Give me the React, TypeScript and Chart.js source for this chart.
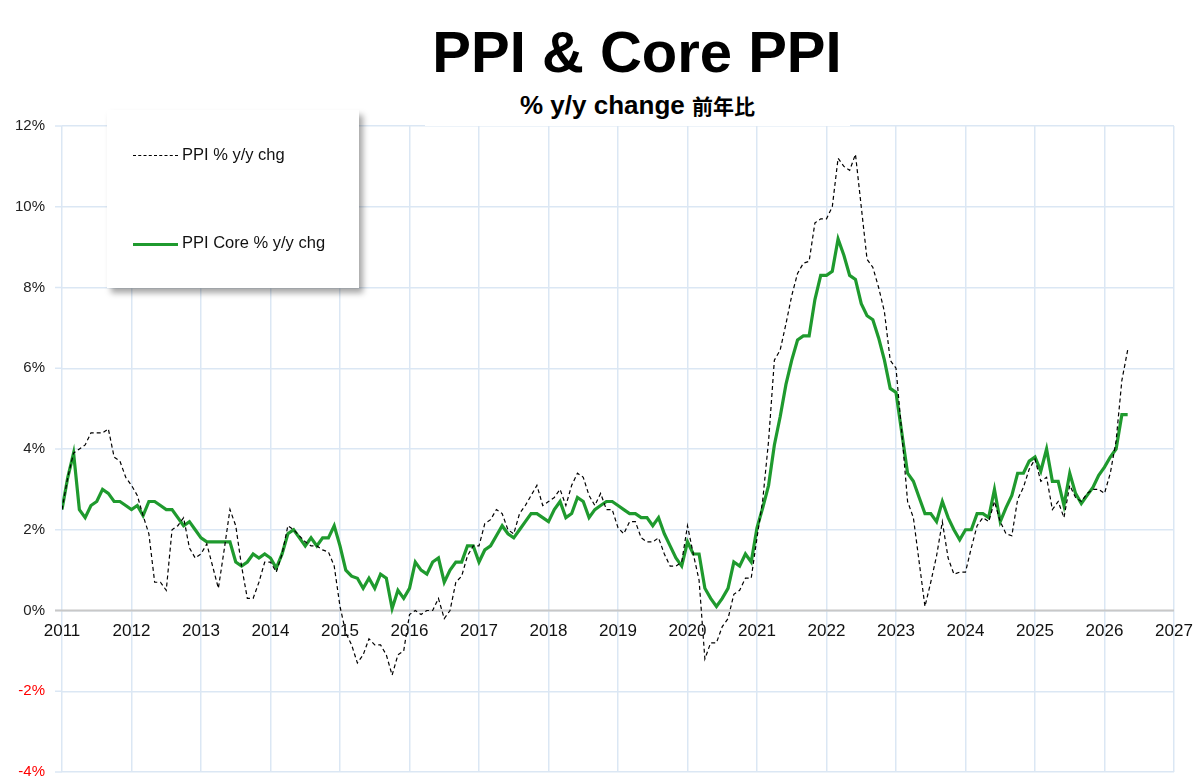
import React, { useEffect, useRef } from "react";
import { Chart, registerables } from "chart.js";
Chart.register(...registerables);

const years = [2011, 2012, 2013, 2014, 2015, 2016, 2017, 2018, 2019, 2020, 2021, 2022, 2023, 2024, 2025, 2026];
const ppi2011 = [2.5, 3.3, 3.9, 4.0, 4.1, 4.4, 4.4, 4.4, 4.5, 3.8, 3.7, 3.3];
const ppi2012 = [3.1, 2.85, 2.35, 1.9, 0.7, 0.7, 0.5, 2.0, 2.1, 2.3, 1.55, 1.3];
const ppi2013 = [1.4, 1.65, 1.1, 0.55, 1.5, 2.5, 2.1, 1.1, 0.3, 0.3, 0.7, 1.2];
const ppi2014 = [1.2, 0.95, 1.4, 2.1, 2.0, 1.85, 1.7, 1.6, 1.6, 1.5, 1.45, 1.1];
const ppi2015 = [0.1, -0.55, -0.85, -1.3, -1.1, -0.7, -0.85, -0.85, -1.1, -1.6, -1.1, -1.0];
const ppi2016 = [-0.1, 0.0, -0.1, 0.0, 0.0, 0.3, -0.2, 0.0, 0.7, 0.85, 1.35, 1.6];
const ppi2017 = [1.6, 2.15, 2.25, 2.5, 2.4, 2.0, 1.9, 2.4, 2.6, 2.85, 3.1, 2.6];
const ppi2018 = [2.7, 2.8, 3.0, 2.6, 3.1, 3.4, 3.3, 2.85, 2.6, 2.9, 2.5, 2.5];
const ppi2019 = [2.05, 1.9, 2.2, 2.2, 1.8, 1.7, 1.7, 1.8, 1.4, 1.1, 1.1, 1.2];
const ppi2020 = [2.1, 1.4, 0.75, -1.2, -0.8, -0.8, -0.4, -0.2, 0.4, 0.5, 0.8, 0.8];
const ppi2021 = [1.8, 2.75, 4.2, 6.2, 6.45, 7.1, 7.8, 8.35, 8.6, 8.65, 9.6, 9.7];
const ppi2022 = [9.7, 10.0, 11.2, 11.0, 10.9, 11.3, 10.0, 8.7, 8.5, 8.0, 7.4, 6.2];
const ppi2023 = [6.0, 4.4, 2.7, 2.3, 1.2, 0.1, 0.7, 1.35, 2.2, 1.3, 0.9, 0.95];
const ppi2024 = [0.95, 1.55, 2.1, 2.3, 2.2, 2.7, 2.2, 1.9, 1.85, 2.75, 3.05, 3.5];
const ppi2025 = [3.75, 3.2, 3.3, 2.5, 2.7, 2.3, 3.1, 2.8, 2.7, 2.9, 3.0, 3.0];
const ppi2026 = [2.9, 3.4, 4.2, 5.7, 6.45];

const core2011 = [2.5, 3.3, 3.9, 2.5, 2.3, 2.6, 2.7, 3.0, 2.9, 2.7, 2.7, 2.6];
const core2012 = [2.5, 2.6, 2.35, 2.7, 2.7, 2.6, 2.5, 2.5, 2.3, 2.1, 2.2, 2.0];
const core2013 = [1.8, 1.7, 1.7, 1.7, 1.7, 1.7, 1.2, 1.1, 1.2, 1.4, 1.3, 1.4];
const core2014 = [1.3, 1.05, 1.4, 1.9, 2.0, 1.8, 1.6, 1.8, 1.6, 1.8, 1.8, 2.1];
const core2015 = [1.6, 1.0, 0.85, 0.8, 0.55, 0.8, 0.55, 0.9, 0.8, 0.05, 0.5, 0.3];
const core2016 = [0.55, 1.2, 1.0, 0.9, 1.2, 1.3, 0.7, 1.0, 1.2, 1.2, 1.6, 1.6];
const core2017 = [1.2, 1.5, 1.6, 1.85, 2.1, 1.9, 1.8, 2.0, 2.2, 2.4, 2.4, 2.3];
const core2018 = [2.2, 2.5, 2.7, 2.3, 2.4, 2.8, 2.7, 2.3, 2.5, 2.6, 2.7, 2.7];
const core2019 = [2.6, 2.5, 2.4, 2.4, 2.3, 2.3, 2.1, 2.3, 1.9, 1.6, 1.3, 1.1];
const core2020 = [1.7, 1.4, 1.4, 0.55, 0.3, 0.1, 0.3, 0.55, 1.2, 1.1, 1.4, 1.2];
const core2021 = [2.05, 2.55, 3.1, 4.1, 4.8, 5.6, 6.2, 6.7, 6.8, 6.8, 7.7, 8.3];
const core2022 = [8.3, 8.4, 9.2, 8.8, 8.3, 8.2, 7.6, 7.3, 7.2, 6.75, 6.2, 5.5];
const core2023 = [5.4, 4.4, 3.4, 3.2, 2.8, 2.4, 2.4, 2.2, 2.7, 2.3, 2.0, 1.75];
const core2024 = [2.0, 2.0, 2.4, 2.4, 2.3, 3.0, 2.2, 2.55, 2.85, 3.4, 3.4, 3.7];
const core2025 = [3.8, 3.45, 4.0, 3.2, 3.2, 2.6, 3.4, 2.9, 2.65, 2.85, 3.05, 3.35];
const core2026 = [3.55, 3.8, 4.0, 4.85, 4.85];

const ppiByYear = [ppi2011, ppi2012, ppi2013, ppi2014, ppi2015, ppi2016, ppi2017, ppi2018, ppi2019, ppi2020, ppi2021, ppi2022, ppi2023, ppi2024, ppi2025, ppi2026];
const coreByYear = [core2011, core2012, core2013, core2014, core2015, core2016, core2017, core2018, core2019, core2020, core2021, core2022, core2023, core2024, core2025, core2026];
const yTicks = [-4, -2, 0, 2, 4, 6, 8, 10, 12];
const xTicks = [2011, 2012, 2013, 2014, 2015, 2016, 2017, 2018, 2019, 2020, 2021, 2022, 2023, 2024, 2025, 2026, 2027];

function toPoints(byYear: number[][]) {
  const out: { x: number; y: number }[] = [];
  byYear.forEach((arr, i) => arr.forEach((v, m) => out.push({ x: years[i] + m / 12, y: v })));
  return out;
}

const labelPlugin = {
  id: "labels",
  afterDraw(chart: any) {
    const ctx = chart.ctx;
    const xs = chart.scales.x;
    const ys = chart.scales.y;
    ctx.save();
    ctx.font = "15px Arial, 'Liberation Sans', sans-serif";
    ctx.textAlign = "right";
    ctx.textBaseline = "middle";
    yTicks.forEach((t) => {
      ctx.fillStyle = t < 0 ? "#ff0000" : "#222";
      ctx.fillText(t + "%", 45, ys.getPixelForValue(t));
    });
    ctx.fillStyle = "#111";
    ctx.textAlign = "center";
    ctx.textBaseline = "top";
    ctx.font = "17px Arial, 'Liberation Sans', sans-serif";
    const y0 = ys.getPixelForValue(0);
    xTicks.forEach((t) => ctx.fillText(String(t), xs.getPixelForValue(t), y0 + 12));
    ctx.restore();
  },
  beforeDatasetsDraw(chart: any) {
    const ctx = chart.ctx;
    const ys = chart.scales.y;
    const area = chart.chartArea;
    ctx.save();
    ctx.strokeStyle = "#dbe7f4";
    ctx.lineWidth = 1.5;
    yTicks.forEach((t) => {
      const y = ys.getPixelForValue(t);
      ctx.beginPath();
      ctx.moveTo(55, y);
      ctx.lineTo(area.left, y);
      ctx.stroke();
    });
    const y0 = ys.getPixelForValue(0);
    ctx.strokeStyle = "#c8c8c8";
    ctx.lineWidth = 2;
    ctx.beginPath();
    ctx.moveTo(55, y0);
    ctx.lineTo(area.right, y0);
    ctx.stroke();
    ctx.restore();
  },
};

export default function App() {
  const ref = useRef<HTMLCanvasElement>(null);
  useEffect(() => {
    const chart = new Chart(ref.current!, {
      type: "line",
      data: {
        datasets: [
          {
            label: "PPI % y/y chg",
            data: toPoints(ppiByYear),
            borderColor: "#000",
            borderWidth: 1.2,
            borderDash: [4, 3],
            pointRadius: 0,
            tension: 0,
          },
          {
            label: "PPI Core % y/y chg",
            data: toPoints(coreByYear),
            borderColor: "#1f9a2e",
            borderWidth: 3.2,
            pointRadius: 0,
            tension: 0,
          },
        ],
      },
      options: {
        animation: false,
        responsive: false,
        layout: { padding: { left: 62, right: 26, top: 126, bottom: 12 } },
        plugins: { legend: { display: false }, title: { display: false }, tooltip: { enabled: false } },
        scales: {
          x: {
            type: "linear",
            min: 2011,
            max: 2027,
            ticks: { display: false, stepSize: 1 },
            grid: { color: "#dbe7f4", lineWidth: 1.5, drawTicks: false },
            border: { display: false },
          },
          y: {
            min: -4,
            max: 12,
            ticks: { display: false, stepSize: 2 },
            grid: { color: "#dbe7f4", lineWidth: 1.5, drawTicks: false },
            border: { display: false },
          },
        },
      },
      plugins: [labelPlugin],
    });
    return () => chart.destroy();
  }, []);

  return (
    <div style={{ position: "absolute", left: 0, top: 0, width: 1200, height: 784, background: "#fff", fontFamily: "Arial, 'Liberation Sans', sans-serif" }}>
      <canvas ref={ref} width={1200} height={784} style={{ position: "absolute", left: 0, top: 0 }} />
      <div style={{ position: "absolute", left: 0, top: 18, width: 1274, textAlign: "center", fontSize: 58, fontWeight: "bold", color: "#000" }}>
        PPI &amp; Core PPI
      </div>
      <div style={{ position: "absolute", left: 425, top: 86, width: 425, height: 40, background: "#fff", textAlign: "center", fontSize: 26, fontWeight: "bold", lineHeight: "38px" }}>
        % y/y change <span style={{ fontFamily: "'Noto Sans CJK JP', sans-serif", fontSize: 21 }}>前年比</span>
      </div>
      <div style={{ position: "absolute", left: 107, top: 110, width: 252, height: 178, background: "#fff", boxShadow: "4px 5px 6px rgba(0,0,0,0.35)" }}>
        <div style={{ position: "absolute", left: 26, top: 45, width: 45, borderTop: "1.5px dashed #000" }} />
        <div style={{ position: "absolute", left: 75, top: 35, fontSize: 16.5, color: "#111" }}>PPI % y/y chg</div>
        <div style={{ position: "absolute", left: 26, top: 133, width: 45, borderTop: "3px solid #1f9a2e" }} />
        <div style={{ position: "absolute", left: 75, top: 123, fontSize: 16.5, color: "#111" }}>PPI Core % y/y chg</div>
      </div>
    </div>
  );
}
